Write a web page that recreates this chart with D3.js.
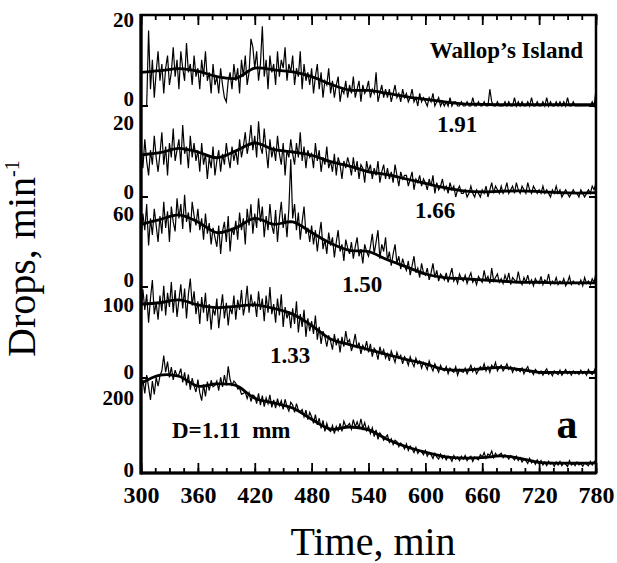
<!DOCTYPE html>
<html>
<head>
<meta charset="utf-8">
<script src="https://cdn.jsdelivr.net/npm/d3@7"></script>
<style>
  body { margin: 0; background: #fff; }
  text { font-family: "Liberation Serif", "Times New Roman", serif; fill: #000; }
</style>
</head>
<body>
<svg id="chart" width="617" height="563"></svg>
<script>
// sample grid: raw counts every 2 min, smoothed curve read every 20 min
var rawTimes = d3.range(300, 781, 2);
var smoothTimes = d3.range(300, 781, 20);
var xTickValues = [300, 360, 420, 480, 540, 600, 660, 720, 780];
var xMinorTicks = d3.range(300, 781, 15);

var yTopTicks = [20, 20, 60, 100, 200];
var sizeLabels = ["1.91", "1.66", "1.50", "1.33", "D=1.11  mm"];

// D = 1.91 mm
var raw1 = [0,0,0,0,18,4,11,2,8,13, 6,10,3,9,12,5,8,14,7,11, 4,13,9,6,15,8,10,5,12,7,
  9,4,11,7,13,6,8,3,10,5, 7,3,9,5,2,1,6,8,4,10, 6,9,3,11,7,12,5,8,16,14,
  9,13,6,10,19,7,11,4,12,8, 10,5,13,7,11,9,14,6,10,8, 12,5,9,7,13,4,10,6,8,5,
  9,3,7,10,4,8,2,6,5,9, 3,6,2,5,7,1,4,3,6,2, 5,3,7,2,4,6,1,5,3,4,
  6,2,4,3,8,1,3,5,2,4, 2,4,1,3,5,2,3,1,4,2, 3,1,2,4,1,2,0,3,1,2,
  1,0,2,1,3,0,1,2,0,1, 0,1,0,2,0,1,1,0,0,1, 0,0,1,0,0,2,0,0,1,0,
  0,1,0,0,4,1,0,0,1,0, 0,0,1,0,1,0,0,2,0,1, 0,1,0,0,1,0,2,0,0,1,
  0,0,1,0,2,0,1,0,0,1, 0,1,0,1,0,2,0,0,1,0, 0,0,0,0,0,0,0,0,1,0, 4];
var smooth1 = [8.0,8.4,8.9,8.3,7.0,6.6,9.0,8.6,8.1,7.0,5.2,3.8,3.7,3.0,2.2,1.6,1.0,0.5,0.4,0.3,0.3,0.3,0.3,0.3,0.4];

// D = 1.66 mm
var raw2 = [14,8,16,10,6,13,9,17,11,7, 12,18,9,14,6,15,11,19,10,13, 16,9,20,12,14,8,17,11,15,10,
  13,7,15,9,12,5,11,8,14,6, 10,13,7,12,9,15,11,8,14,10, 13,9,16,11,14,18,12,15,20,13,
  17,11,21,14,12,19,13,8,16,11, 14,10,17,12,9,15,6,13,11,16, 12,9,15,11,18,10,14,8,13,11,
  12,8,15,10,13,7,11,9,14,8, 10,7,12,6,11,9,5,10,8,11, 9,6,11,7,10,5,9,8,4,10,
  7,9,5,8,6,10,4,7,9,5, 8,5,7,4,9,6,3,7,5,6, 6,3,5,7,2,5,4,6,3,5,
  4,2,5,3,6,1,4,2,3,5, 2,3,1,4,2,3,0,2,3,1, 1,2,0,1,3,1,0,2,1,0,
  2,1,3,0,2,4,1,3,2,1, 3,1,2,4,1,2,3,1,4,2, 1,3,2,1,4,2,1,3,2,1,
  2,1,3,1,2,1,0,2,1,3, 1,2,0,1,2,1,0,1,2,1, 1,0,2,1,0,1,2,1,3,2, 4];
var smooth2 = [11.7,12.3,13.5,12.5,10.9,12.8,15.0,13.2,12.5,11.6,9.8,8.6,7.0,6.2,5.0,3.8,2.6,1.7,1.4,1.6,1.7,1.5,1.2,1.1,1.2];

// D = 1.50 mm
var raw3 = [40,62,48,70,35,58,44,66,52,38, 60,45,72,50,64,38,68,55,47,75, 58,70,49,78,55,63,46,72,60,52,
  66,48,58,40,62,45,54,36,50,42, 34,52,28,47,55,38,60,30,50,44, 56,40,63,48,58,36,66,52,70,45,
  62,50,75,55,68,42,60,48,70,52, 45,65,38,58,72,50,62,42,66,108, 58,70,48,63,40,55,68,45,50,38,
  52,36,48,30,44,55,32,40,28,46, 35,42,25,38,48,30,36,22,40,33, 28,38,24,34,42,26,32,20,36,30,
  26,34,45,28,38,48,24,36,30,42, 22,30,18,28,36,20,26,15,24,18, 14,22,10,18,26,12,16,8,20,12,
  10,16,6,12,20,8,14,5,11,9, 6,12,4,10,16,5,8,3,11,7, 5,10,3,8,12,4,7,2,9,6,
  4,14,6,9,3,16,5,8,11,4, 7,3,10,5,12,2,8,6,4,13, 5,2,8,4,10,3,6,1,7,4,
  3,9,2,6,4,11,2,5,3,8, 2,5,3,7,1,4,9,2,5,3, 4,2,6,1,8,3,5,2,7,4, 12];
var smooth3 = [53,57,61,55,46,50,58,53,55,46,37,31,30,23,17,11,8,7,6,5,4,4,3.5,3.5,3.5];

// D = 1.33 mm
var raw4 = [85,125,96,118,78,112,138,90,106,82, 116,94,130,88,120,100,135,92,124,86, 110,132,98,126,84,118,140,102,122,90,
  108,76,114,92,120,80,104,68,98,88, 112,70,96,118,84,106,74,100,90,116, 82,110,96,124,88,104,130,92,118,100,
  108,86,122,96,112,80,116,92,128,90, 104,78,112,88,118,72,100,84,94,70, 98,76,108,64,90,72,96,58,84,66,
  80,62,88,54,72,48,66,58,44,60, 52,40,62,46,56,36,58,44,66,50, 54,38,48,62,42,50,34,46,40,52,
  36,48,30,42,38,26,44,34,40,28, 34,24,38,30,22,36,28,32,20,30, 26,18,30,22,16,28,20,24,14,22,
  18,12,24,16,10,20,14,8,18,12, 10,16,6,14,10,8,16,4,12,9, 8,14,6,12,18,9,14,6,11,16,
  12,20,10,16,8,18,14,22,10,15, 18,10,14,20,12,16,8,14,10,12, 9,14,6,12,16,8,10,5,12,9,
  6,10,4,9,13,5,8,3,10,7, 5,11,4,8,12,6,9,4,10,6, 8,5,11,6,9,4,12,7,5,10, 16];
var smooth4 = [104,106,110,103,99,101,103,98,90,74,55,47,40,33,26,20,12,11,13,15,12,8,8,8,8];

// D = 1.11 mm
var raw5 = [232,255,218,268,236,200,252,215,262,238, 266,280,322,276,305,262,290,255,282,266, 270,286,248,276,240,270,228,260,238,222,
  256,220,198,242,210,250,226,254,236,240, 252,226,262,236,268,240,292,256,240,252, 246,230,232,216,218,222,204,220,196,214,
  210,190,218,186,212,182,206,190,214,180, 200,178,204,184,198,174,202,182,170,194, 186,166,190,172,168,174,154,172,146,166,
  154,136,160,132,150,122,144,114,136,118, 114,130,108,128,116,136,114,142,128,130, 136,120,146,126,140,124,148,122,138,116,
  128,108,124,100,118,92,110,102,90,98, 104,84,94,78,90,86,72,82,76,66, 80,62,74,66,56,70,54,62,58,50,
  62,46,56,50,40,54,44,38,52,40, 48,36,46,42,32,48,38,44,34,46, 38,48,34,42,46,32,44,40,36,50,
  44,56,40,52,48,60,42,54,46,50, 54,42,50,46,38,48,42,36,46,34, 42,30,38,34,26,40,28,34,24,36,
  26,34,22,30,20,32,24,28,18,30, 22,32,20,28,24,18,34,22,26,20, 30,22,26,18,28,24,20,32,22,30, 36];
var smooth5 = [245,268,265,238,244,240,205,192,178,147,120,126,118,92,72,57,45,41,42,47,40,29,27,27,28];

var rawSeries = [raw1, raw2, raw3, raw4, raw5];
var smoothSeries = [smooth1, smooth2, smooth3, smooth4, smooth5];

// ---- layout ----
var svg = d3.select("#chart");
var plotLeft = 141, plotRight = 596, plotTop = 15, plotBottom = 473;
var baseY = [106, 197, 287, 378, 473];
var topY = [22, 125, 216, 307, 400];
var zeroShift = [-7, -5, -7, -6, -3];
var labelPos = [[457, 132, "middle"], [435, 218, "middle"], [362, 292, "middle"], [290, 363, "middle"], [172, 438, "start"]];

var x = d3.scaleLinear().domain([300, 780]).range([plotLeft, plotRight]);

var panels = rawSeries.map(function(r, i) {
  return d3.scaleLinear().domain([0, yTopTicks[i]]).range([baseY[i], topY[i]]);
});

// traces
rawSeries.forEach(function(r, i) {
  var y = panels[i];
  var rawLine = d3.line()
    .x(function(d, j) { return x(rawTimes[j]); })
    .y(function(d) { return y(d); });
  svg.append("path")
    .datum(r)
    .attr("d", rawLine)
    .attr("fill", "none")
    .attr("stroke", "#000")
    .attr("stroke-width", 1.2);

  var smoothLine = d3.line()
    .curve(d3.curveCatmullRom)
    .x(function(d, j) { return x(smoothTimes[j]); })
    .y(function(d) { return y(d); });
  svg.append("path")
    .datum(smoothSeries[i])
    .attr("d", smoothLine)
    .attr("fill", "none")
    .attr("stroke", "#000")
    .attr("stroke-width", 2.8);

  // small inward ticks at each baseline
  svg.append("line").attr("x1", plotLeft).attr("x2", plotLeft + 7)
    .attr("y1", y(0)).attr("y2", y(0)).attr("stroke", "#000").attr("stroke-width", 2);
  svg.append("line").attr("x1", plotRight - 7).attr("x2", plotRight)
    .attr("y1", y(0)).attr("y2", y(0)).attr("stroke", "#000").attr("stroke-width", 2);

  // left tick labels
  svg.append("text")
    .attr("x", 134).attr("y", y(yTopTicks[i]) + 5)
    .attr("text-anchor", "end")
    .style("font-size", "21px").style("font-weight", "bold")
    .text(yTopTicks[i]);
  svg.append("text")
    .attr("x", 134).attr("y", y(0) + zeroShift[i] + 7)
    .attr("text-anchor", "end")
    .style("font-size", "21px").style("font-weight", "bold")
    .text(0);

  // size labels
  svg.append("text")
    .attr("x", labelPos[i][0]).attr("y", labelPos[i][1])
    .attr("text-anchor", labelPos[i][2])
    .attr("xml:space", "preserve")
    .style("white-space", "pre")
    .style("font-size", "23px").style("font-weight", "bold")
    .text(sizeLabels[i]);
});

// x axes: major and minor ticks, bottom pointing up, top pointing down
var bottomMajor = d3.axisBottom(x).tickValues(xTickValues).tickSizeInner(-10).tickSizeOuter(0);
var bottomMinor = d3.axisBottom(x).tickValues(xMinorTicks).tickSizeInner(-5).tickSizeOuter(0).tickFormat("");
var topMajor = d3.axisTop(x).tickValues(xTickValues).tickSizeInner(-10).tickSizeOuter(0).tickFormat("");
var topMinor = d3.axisTop(x).tickValues(xMinorTicks).tickSizeInner(-5).tickSizeOuter(0).tickFormat("");

function styleAxis(g) {
  g.selectAll("path.domain").remove();
  g.selectAll(".tick line").attr("stroke", "#000").attr("stroke-width", 1.8);
}

svg.append("g").attr("transform", "translate(0," + plotBottom + ")").call(bottomMinor).call(styleAxis);
var gb = svg.append("g").attr("transform", "translate(0," + plotBottom + ")").call(bottomMajor).call(styleAxis);
gb.selectAll(".tick text")
  .attr("dy", "0.35em")
  .attr("y", 22)
  .style("font-family", "\"Liberation Serif\", \"Times New Roman\", serif")
  .style("font-size", "24px").style("font-weight", "bold").attr("fill", "#000");
svg.append("g").attr("transform", "translate(0," + plotTop + ")").call(topMinor).call(styleAxis);
svg.append("g").attr("transform", "translate(0," + plotTop + ")").call(topMajor).call(styleAxis);

// frame
svg.append("rect")
  .attr("x", plotLeft).attr("y", plotTop)
  .attr("width", plotRight - plotLeft).attr("height", plotBottom - plotTop)
  .attr("fill", "none").attr("stroke", "#000").attr("stroke-width", 2.5);
svg.append("line").attr("x1", plotLeft).attr("x2", plotLeft).attr("y1", plotTop - 1).attr("y2", plotBottom + 1.5)
  .attr("stroke", "#000").attr("stroke-width", 3.2);
svg.append("line").attr("x1", plotLeft).attr("x2", plotRight).attr("y1", plotBottom).attr("y2", plotBottom)
  .attr("stroke", "#000").attr("stroke-width", 3.2);

// annotations
svg.append("text")
  .attr("x", 583).attr("y", 58).attr("text-anchor", "end")
  .style("font-size", "23px").style("font-weight", "bold")
  .text("Wallop\u2019s Island");
svg.append("text")
  .attr("x", 567).attr("y", 438).attr("text-anchor", "middle")
  .style("font-size", "42px").style("font-weight", "bold")
  .text("a");

// axis titles
svg.append("text")
  .attr("x", 373).attr("y", 555).attr("text-anchor", "middle")
  .style("font-size", "40px")
  .text("Time, min");

var yTitle = svg.append("text")
  .attr("transform", "translate(35,357) rotate(-90)")
  .attr("text-anchor", "start")
  .style("font-size", "40px");
yTitle.append("tspan").text("Drops, min");
yTitle.append("tspan").attr("dy", -16).style("font-size", "20px").text("-1");
</script>
</body>
</html>
